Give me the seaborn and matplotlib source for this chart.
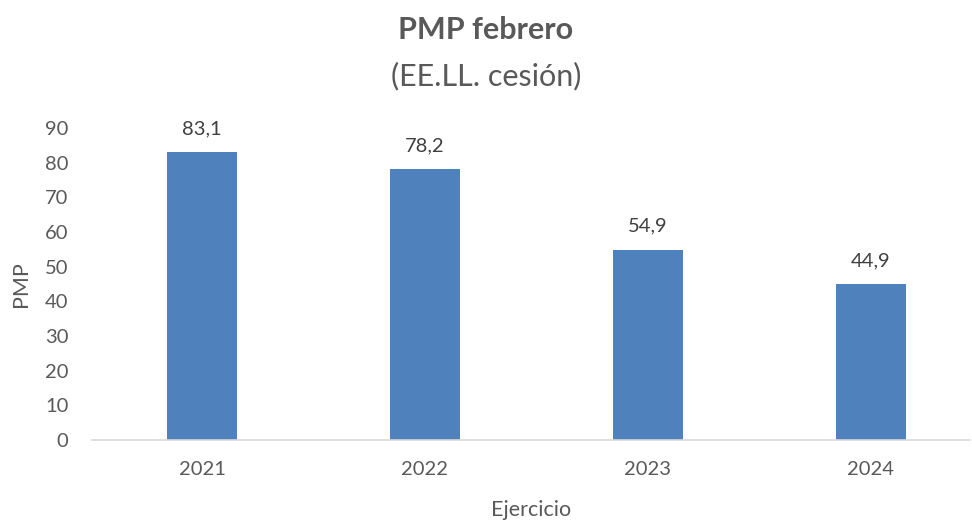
import matplotlib
matplotlib.use("Agg")
import matplotlib.pyplot as plt
import seaborn as sns
import pandas as pd

years = ["2021", "2022", "2023", "2024"]
pmp = [83.1, 78.2, 54.9, 44.9]
labels = ["83,1", "78,2", "54,9", "44,9"]
yticks = [0, 10, 20, 30, 40, 50, 60, 70, 80, 90]

sns.set_theme(style="white")
plt.rcParams['font.family'] = ['Lato', 'DejaVu Sans']
gray = "#595959"

df = pd.DataFrame({"Ejercicio": years, "PMP": pmp})
fig = plt.figure(figsize=(9.72, 5.22), dpi=100)
ax = fig.add_axes([92/972, 1-440/522, (970-92)/972, (440-128)/522])
sns.barplot(data=df, x="Ejercicio", y="PMP", color="#4F81BD", saturation=1,
            width=0.314, ax=ax)
for p in ax.patches:
    p.set_edgecolor("none")
ax.set_xlim(-0.493, 3.444)
ax.set_ylim(0, 90)
ax.set_yticks(yticks)
ax.set_yticklabels([str(v) for v in yticks])
for i, (v, t) in enumerate(zip(pmp, labels)):
    ax.text(i, v + 4.3, t, ha="center", va="bottom", fontsize=14.5, color="#404040")
for s in ["top", "right", "left"]:
    ax.spines[s].set_visible(False)
ax.spines["bottom"].set_color("#D9D9D9")
ax.spines["bottom"].set_linewidth(1.2)
ax.tick_params(axis="both", length=0, labelsize=14.5, colors=gray)
ax.tick_params(axis="y", pad=17)
ax.tick_params(axis="x", pad=15)
ax.set_xlabel("Ejercicio", fontsize=15.5, color=gray, labelpad=16)
ax.set_ylabel("PMP", fontsize=15.5, color=gray, labelpad=10)
fig.text(0.5, 1-30/522, "PMP febrero", ha="center", va="center",
         fontsize=22, fontweight="bold", color=gray)
fig.text(0.5, 1-76/522, "(EE.LL. cesión)", ha="center", va="center",
         fontsize=22, color=gray)
fig.savefig("out.png", dpi=100)
